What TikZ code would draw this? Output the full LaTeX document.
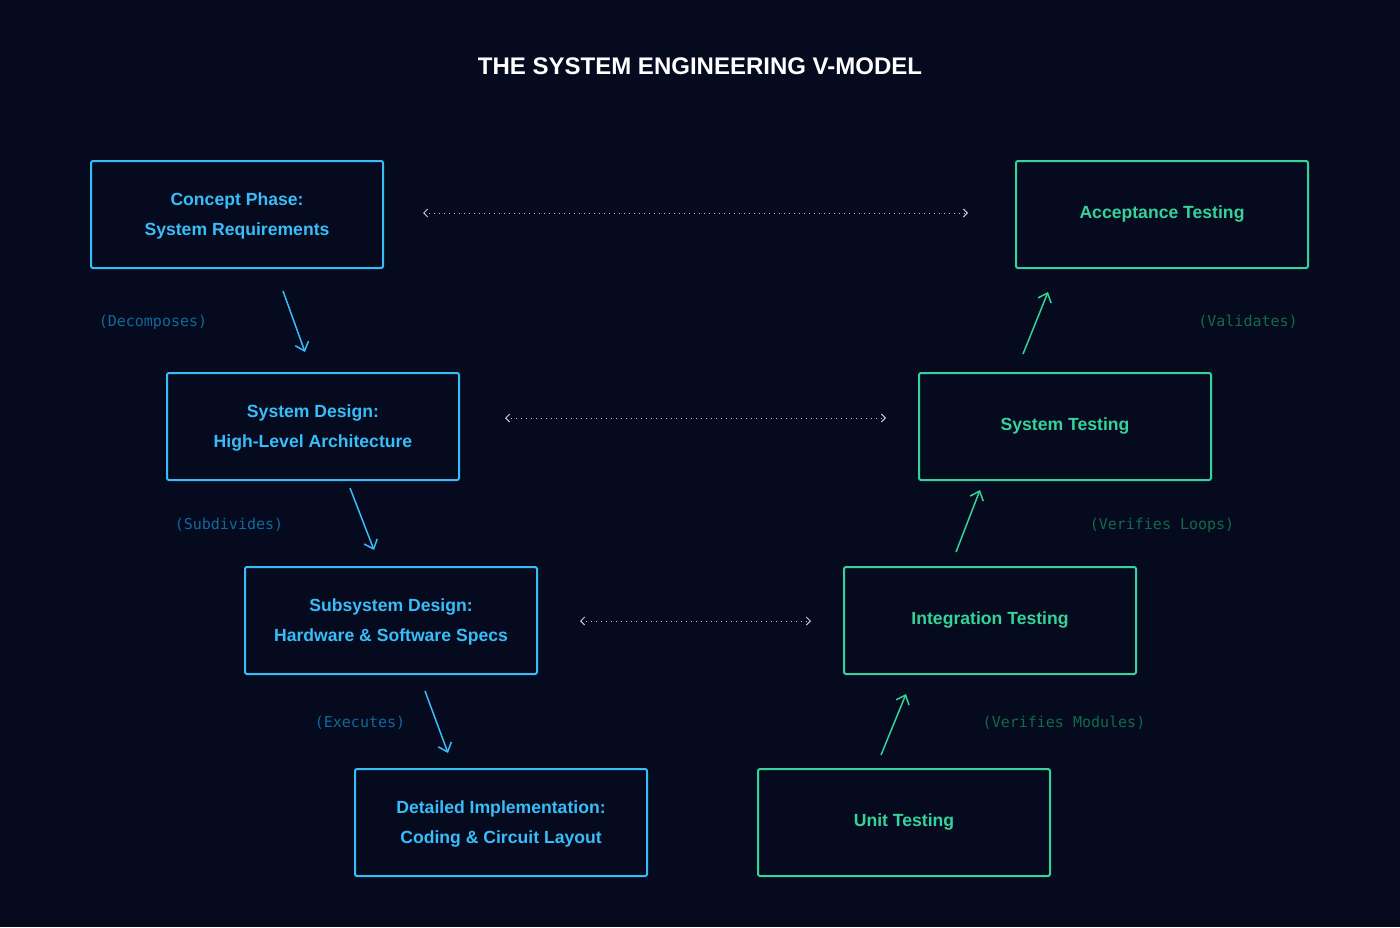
\documentclass[tikz,border=0pt]{standalone}
\usepackage{fontspec}
\setmainfont{Liberation Sans}
\newfontfamily\monof{DejaVu Sans Mono}
\usetikzlibrary{arrows.meta}
\definecolor{bg}{HTML}{050A1F}
\definecolor{bl}{HTML}{38BDF8}
\definecolor{gr}{HTML}{34D399}
\definecolor{bll}{HTML}{0E6A9A}
\definecolor{grl}{HTML}{0F6B48}
\definecolor{dot}{HTML}{C8CCD6}
\tikzset{
 x=0.5pt,y=-0.5pt,
 box/.style={draw, line width=1pt, rounded corners=1pt, minimum width=146pt, minimum height=53.5pt, align=center, font=\bfseries\fontsize{8.8}{15}\selectfont, inner sep=0pt},
 bbox/.style={box, draw=bl, text=bl},
 gbox/.style={box, draw=gr, text=gr},
 barr/.style={draw=bl, line width=0.75pt, -{Straight Barb[length=4pt,width=7pt]}},
 garr/.style={draw=gr, line width=0.75pt, -{Straight Barb[length=4pt,width=7pt]}},
 dl/.style={draw=dot, line width=0.5pt, dotted, {Straight Barb[length=2pt,width=4pt]}-{Straight Barb[length=2pt,width=4pt]}},
 lab/.style={font=\monof\fontsize{7.5}{9}\selectfont},
}
\begin{document}
\begin{tikzpicture}
\fill[bg] (0,0) rectangle (1400,927);
\useasboundingbox (0,0) rectangle (1400,927);
\node[text=white,font=\bfseries\fontsize{12}{13}\selectfont] (title) at (700,66) {THE SYSTEM ENGINEERING V-MODEL};
\node[bbox] (c) at (237,214.5) {\rule{0pt}{8pt}Concept Phase:\\System Requirements};
\node[bbox] (s) at (313,426.5) {\rule{0pt}{8pt}System Design:\\High-Level Architecture};
\node[bbox] (ss) at (391,620.5) {\rule{0pt}{8pt}Subsystem Design:\\Hardware \& Software Specs};
\node[bbox] (d) at (501,822.5) {\rule{0pt}{8pt}Detailed Implementation:\\Coding \& Circuit Layout};
\node[gbox, text depth=2.5pt] (u) at (904,822.5) {Unit Testing};
\node[gbox, text depth=2.5pt] (i) at (990,620.5) {Integration Testing};
\node[gbox, text depth=2.5pt] (st) at (1065,426.5) {System Testing};
\node[gbox, text depth=2.5pt] (a) at (1162,214.5) {Acceptance Testing};
\coordinate (a1s) at (283,291); \coordinate (a1e) at (305,352);
\coordinate (a2s) at (350,488); \coordinate (a2e) at (374,550);
\coordinate (a3s) at (425,691); \coordinate (a3e) at (448,753);
\coordinate (g1s) at (881,755); \coordinate (g1e) at (906,694);
\coordinate (g2s) at (956,552); \coordinate (g2e) at (980,490);
\coordinate (g3s) at (1023,354); \coordinate (g3e) at (1048,292);
\draw[barr] (a1s) -- (a1e);
\draw[barr] (a2s) -- (a2e);
\draw[barr] (a3s) -- (a3e);
\draw[garr] (g1s) -- (g1e);
\draw[garr] (g2s) -- (g2e);
\draw[garr] (g3s) -- (g3e);
\node[lab,text=bll] (l1) at (153,322) {(Decomposes)};
\node[lab,text=bll] (l2) at (229,525) {(Subdivides)};
\node[lab,text=bll] (l3) at (360,723) {(Executes)};
\node[lab,text=grl] (l4) at (1064,723) {(Verifies Modules)};
\node[lab,text=grl] (l5) at (1162,525) {(Verifies Loops)};
\node[lab,text=grl] (l6) at (1248,322) {(Validates)};
\coordinate (d1a) at (423,213); \coordinate (d1b) at (968,213);
\coordinate (d2a) at (505,418); \coordinate (d2b) at (886,418);
\coordinate (d3a) at (580,621); \coordinate (d3b) at (811,621);
\draw[dl] (d1a) -- (d1b);
\draw[dl] (d2a) -- (d2b);
\draw[dl] (d3a) -- (d3b);
\end{tikzpicture}
\end{document}
